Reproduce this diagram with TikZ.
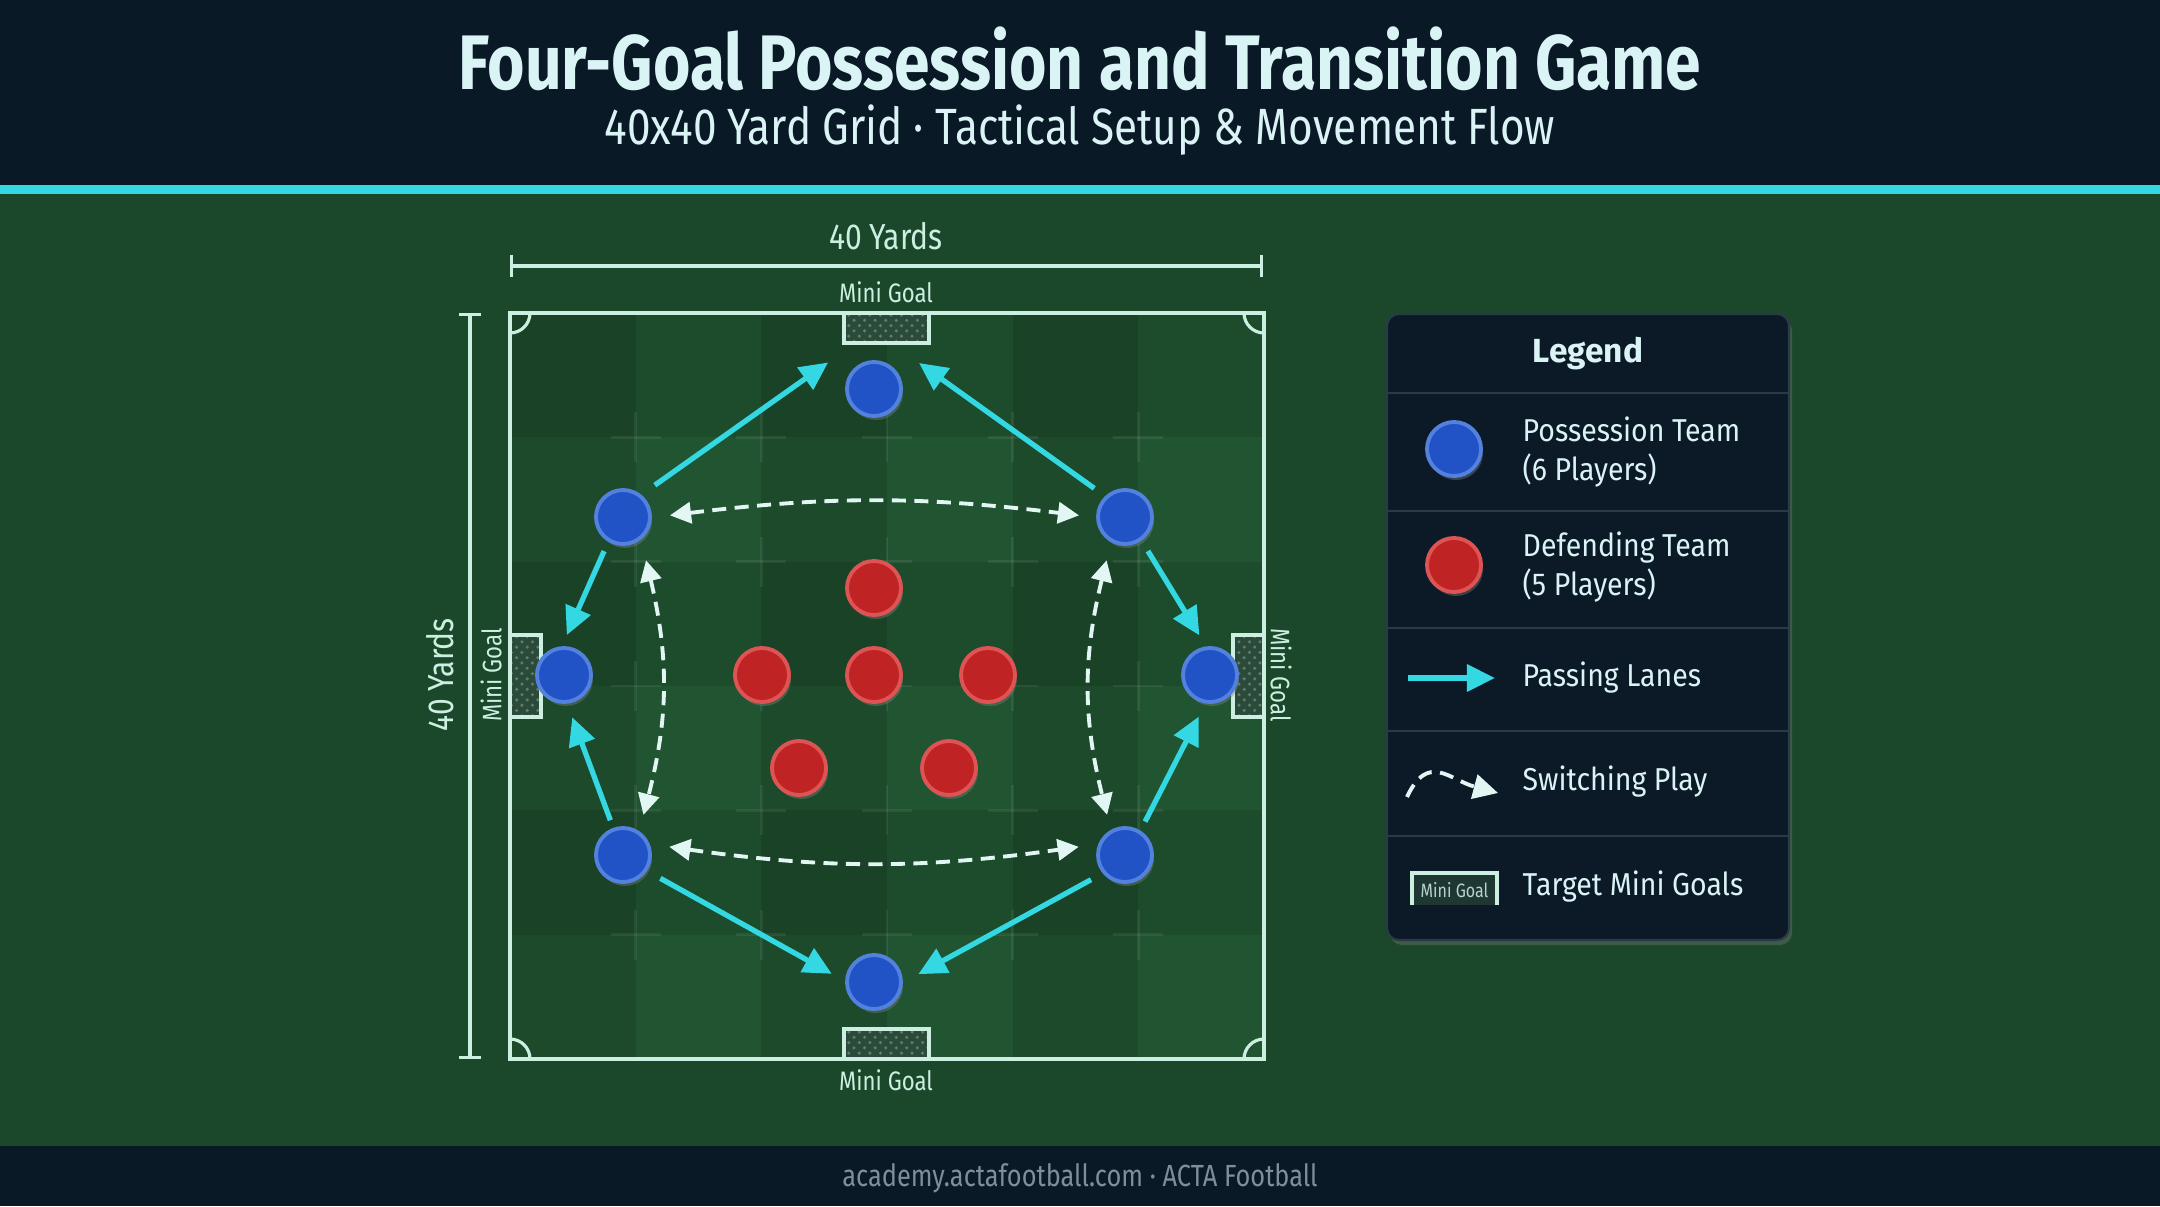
\documentclass[tikz,border=0pt]{standalone}
\usepackage{fontspec}
\setmainfont{Fira Sans}
\newfontfamily\condfont[FakeStretch=0.83]{Fira Sans}
\newfontfamily\keyfont[FakeStretch=0.9]{Fira Sans}
\usetikzlibrary{arrows.meta,calc,shadows,patterns}

\definecolor{headBg}{HTML}{0A1926}
\definecolor{accentCyan}{HTML}{33D8E2}
\definecolor{grassBg}{HTML}{1B482A}
\definecolor{grassField}{HTML}{215532}
\definecolor{lineMint}{HTML}{CDEFE2}
\definecolor{netGreen}{HTML}{2B4A3A}
\definecolor{titleWhite}{HTML}{DAF4F6}
\definecolor{teamBlue}{HTML}{2152C6}
\definecolor{teamBlueRim}{HTML}{5282DE}
\definecolor{teamRed}{HTML}{BF2323}
\definecolor{teamRedRim}{HTML}{DE5454}
\definecolor{switchWhite}{HTML}{E2F6F4}
\definecolor{panelBg}{HTML}{0C1A27}
\definecolor{panelLine}{HTML}{2A3A48}
\definecolor{footGrey}{HTML}{7F8E9B}

\tikzset{
  possession/.style={circle, fill=teamBlue, draw=teamBlueRim, line width=1.1pt,
    minimum size=0.54cm, inner sep=0pt,
    drop shadow={shadow xshift=0.02cm, shadow yshift=-0.04cm, opacity=0.4}},
  defending/.style={possession, fill=teamRed, draw=teamRedRim},
  pass/.style={draw=accentCyan, line width=1.5pt, -{Triangle[length=8pt,width=7.5pt]}},
  switchplay/.style={draw=switchWhite, line width=1.1pt, dash pattern=on 4pt off 2.4pt,
    {Triangle[length=6pt,width=6pt]}-{Triangle[length=6pt,width=6pt]}},
  fieldline/.style={draw=lineMint, line width=0.9pt},
  gridmark/.style={draw=white, opacity=0.07, line width=0.8pt},
  pitchlabel/.style={font=\condfont\fontsize{7.6}{9}\selectfont, text=lineMint, inner sep=0pt},
  dimlabel/.style={font=\condfont\fontsize{10.3}{12}\selectfont, text=lineMint, inner sep=0pt},
  keytext/.style={font=\keyfont\fontsize{9}{11.1}\selectfont, text=titleWhite, anchor=west,
    align=left, inner sep=0pt},
}

\begin{document}
\begin{tikzpicture}
\useasboundingbox (0,0) rectangle (21.6,12.06);

% Background bands
\fill[grassBg] (0,0) rectangle (21.6,12.06);
\fill[headBg] (0,10.21) rectangle (21.6,12.06);
\fill[accentCyan] (0,10.12) rectangle (21.6,10.21);
\fill[headBg] (0,0) rectangle (21.6,0.60);

% Title
\node[anchor=base, font=\condfont\bfseries\fontsize{22}{26}\selectfont, text=titleWhite]
  (title) at (10.80,11.16) {Four-Goal Possession and Transition Game};
\node[anchor=base, font=\condfont\fontsize{14.5}{17}\selectfont, text=titleWhite]
  (subtitle) at (10.80,10.61) {40x40 Yard Grid · Tactical Setup \& Movement Flow};

% Pitch stripes
\fill[grassField] (5.10,1.47) rectangle (12.64,8.93);
\foreach \i in {0,2,4}
  \fill[black, opacity=0.13] ({5.10+\i*1.2567},1.47) rectangle ++(1.2567,7.46);
\foreach \j in {1,3,5}
  \fill[black, opacity=0.10] (5.10,{8.93-\j*1.2433}) rectangle ++(7.54,1.2433);
\foreach \i in {1,...,5}
  \foreach \j in {1,...,5} {
    \draw[gridmark] ({5.10+\i*1.2567-0.25},{8.93-\j*1.2433}) -- ++(0.5,0);
    \draw[gridmark] ({5.10+\i*1.2567},{8.93-\j*1.2433-0.25}) -- ++(0,0.5);
  }

% Pitch lines and corners
\draw[fieldline] (5.10,1.47) rectangle (12.64,8.93);
\foreach \cx/\cy/\a in {5.10/8.93/-90, 12.64/8.93/180, 12.64/1.47/90, 5.10/1.47/0}
  \draw[fieldline] (\cx,\cy) ++(\a:0.2) arc[start angle=\a, delta angle=90, radius=0.2];

% Mini goals
\foreach \gx/\gy/\gw/\gh in {8.44/8.63/0.85/0.30, 8.44/1.47/0.85/0.30, 5.10/4.89/0.31/0.82, 12.33/4.89/0.31/0.82} {
  \fill[netGreen] (\gx,\gy) rectangle ++(\gw,\gh);
  \fill[pattern=crosshatch dots, pattern color=lineMint!30!netGreen] (\gx,\gy) rectangle ++(\gw,\gh);
  \draw[fieldline] (\gx,\gy) rectangle ++(\gw,\gh);
}
\node[pitchlabel, anchor=base] (goalN) at (8.86,9.03) {Mini Goal};
\node[pitchlabel, anchor=base] (goalS) at (8.86,1.16) {Mini Goal};
\node[pitchlabel, rotate=90] (goalW) at (4.91,5.31) {Mini Goal};
\node[pitchlabel, rotate=-90] (goalE) at (12.81,5.31) {Mini Goal};

% Dimensions
\coordinate (dimL) at (5.10,9.40);
\coordinate (dimR) at (12.63,9.40);
\draw[fieldline, {Bar[width=6pt]}-{Bar[width=6pt]}] (dimL) -- (dimR);
\node[dimlabel, anchor=base] (widthLbl) at (8.86,9.56) {40 Yards};
\coordinate (dimT) at (4.70,8.93);
\coordinate (dimB) at (4.70,1.47);
\draw[fieldline, {Bar[width=6pt]}-{Bar[width=6pt]}] (dimT) -- (dimB);
\node[dimlabel, rotate=90] (heightLbl) at (4.40,5.31) {40 Yards};

% Defending team
\foreach \nm/\x/\y in {dTop/8.74/6.18, dL/7.62/5.31, dC/8.74/5.31, dR/9.88/5.31, dLL/7.99/4.38, dLR/9.49/4.38}
  \node[defending] (\nm) at (\x,\y) {};

% Possession team
\foreach \nm/\x/\y in {pTop/8.74/8.17, pUL/6.23/6.89, pUR/11.25/6.89, pL/5.64/5.31,
                       pR/12.10/5.31, pLL/6.23/3.51, pLR/11.25/3.51, pBot/8.74/2.24}
  \node[possession] (\nm) at (\x,\y) {};

% Passing lanes
\draw[pass] ($(pUL)+(45:0.45)$) -- ($(pTop)+(150:0.53)$);
\draw[pass] ($(pUR)+(137:0.42)$) -- ($(pTop)+(30:0.52)$);
\draw[pass] ($(pUL)+(241:0.39)$) -- ($(pL)+(86:0.40)$);
\draw[pass] ($(pUR)+(304:0.41)$) -- ($(pR)+(105:0.41)$);
\draw[pass] ($(pLL)+(110:0.37)$) -- ($(pL)+(281:0.43)$);
\draw[pass] ($(pLR)+(59:0.39)$) -- ($(pR)+(255:0.43)$);
\draw[pass] ($(pLL)+(328:0.44)$) -- ($(pBot)+(169:0.43)$);
\draw[pass] ($(pLR)+(216:0.42)$) -- ($(pBot)+(10:0.45)$);

% Switching play
\draw[switchplay] ($(pUL)+(2:0.47)$) to[bend left=7] ($(pUR)+(178:0.46)$);
\draw[switchplay] ($(pLL)+(10:0.47)$) to[bend right=8] ($(pLR)+(170:0.47)$);
\draw[switchplay] ($(pUL)+(298:0.49)$) to[bend left=14] ($(pLL)+(63:0.45)$);
\draw[switchplay] ($(pUR)+(247:0.47)$) to[bend right=14] ($(pLR)+(114:0.44)$);

% Legend panel
\fill[panelBg, rounded corners=0.12cm, draw=panelLine, line width=0.6pt,
  drop shadow={shadow xshift=0.03cm, shadow yshift=-0.05cm, opacity=0.35}]
  (13.87,2.66) rectangle (17.89,8.92);
\foreach \y in {8.13,6.95,5.78,4.75,3.70}
  \draw[panelLine, line width=0.8pt] (13.87,\y) -- (17.89,\y);
\node[font=\bfseries\fontsize{9.5}{11}\selectfont, text=titleWhite] (legendTitle) at (15.88,8.52) {Legend};

\node[possession] (keyBlue) at (14.54,7.57) {};
\node[keytext] (keyBlueTxt) at (15.22,7.535) {Possession Team\\(6 Players)};
\node[defending] (keyRed) at (14.54,6.41) {};
\node[keytext] (keyRedTxt) at (15.22,6.385) {Defending Team\\(5 Players)};

\coordinate (passA) at (14.08,5.28);
\coordinate (passB) at (14.95,5.28);
\draw[pass] (passA) -- (passB);
\node[keytext] (keyPassTxt) at (15.22,5.28) {Passing Lanes};

\coordinate (swA) at (14.07,4.09);
\coordinate (swB) at (14.98,4.13);
\draw[switchplay, {-Triangle[length=7pt,width=7pt]}] (swA) to[out=65, in=165, looseness=1.4] (swB);
\node[keytext] (keySwTxt) at (15.22,4.24) {Switching Play};

\fill[netGreen!60!panelBg] (14.12,3.01) rectangle (14.97,3.33);
\draw[lineMint, line width=1.1pt] (14.12,3.01) |- (14.97,3.33) -- (14.97,3.01);
\node[font=\condfont\fontsize{5.5}{6}\selectfont, text=lineMint!70!footGrey, inner sep=0pt]
  (keyGoalIcon) at (14.545,3.16) {Mini Goal};
\node[keytext] (keyGoalTxt) at (15.22,3.19) {Target Mini Goals};

% Footer
\node[font=\condfont\fontsize{8.7}{10}\selectfont, text=footGrey] (footer) at (10.80,0.28)
  {academy.actafootball.com · ACTA Football};
\end{tikzpicture}
\end{document}
